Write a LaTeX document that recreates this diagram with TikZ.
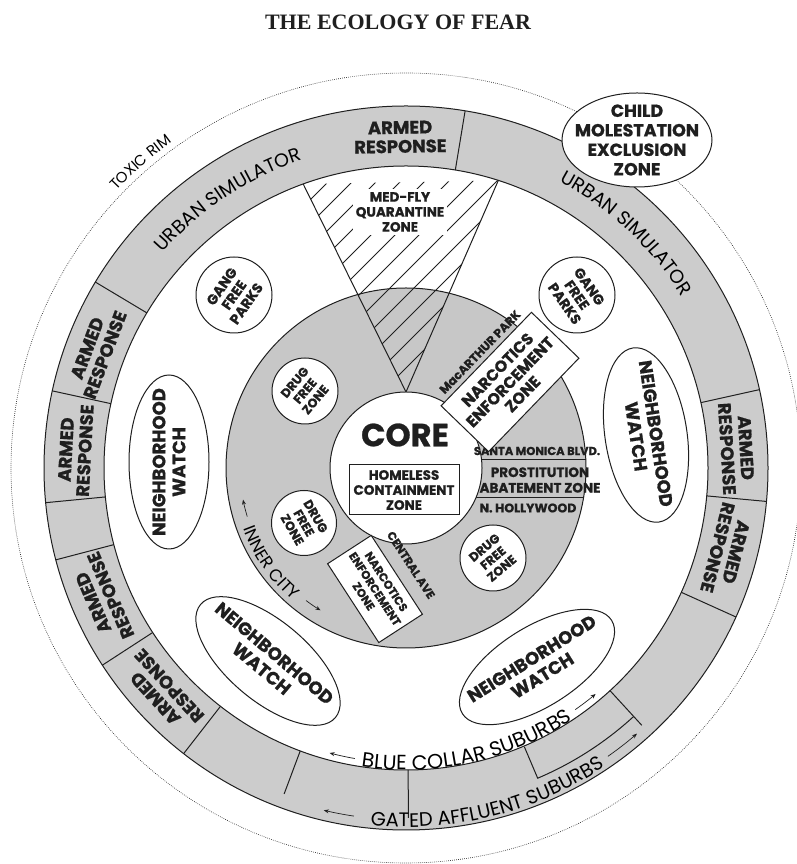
\documentclass[tikz,border=0pt]{standalone}
\usepackage{fontspec}
\setmainfont{Liberation Serif}
\newfontfamily\fut{Poppins}[BoldFeatures={FakeBold=0.8}]
\usetikzlibrary{decorations.text,shapes.geometric,arrows.meta}
\definecolor{ink}{gray}{0.12}
\definecolor{ringgray}{gray}{0.80}
\definecolor{citygray}{gray}{0.78}
\newcommand\usimfont{\fut\fontsize{19}{19}\selectfont}
\newcommand\rimfont{\fut\fontsize{15}{15}\selectfont}
\newcommand\cityfont{\fut\fontsize{17}{17}\selectfont}
\newcommand\bluefont{\fut\fontsize{20.5}{20.5}\selectfont}
\newcommand\gatedfont{\fut\fontsize{19.5}{19.5}\selectfont}
\tikzset{
  lbl/.style={align=center, text=ink, inner sep=0pt},
  nwe/.style={ellipse, draw=ink, fill=white, line width=1pt, inner sep=0pt},
  zonecirc/.style={circle, draw=ink, fill=white, line width=1pt, inner sep=0pt},
  abox/.style={draw=ink, fill=white, line width=1pt, inner sep=0pt},
  artext/.style={lbl, font=\fut\bfseries\fontsize{18}{19}\selectfont},
  nwtext/.style={lbl, font=\fut\bfseries\fontsize{18}{20}\selectfont},
  dfztext/.style={lbl, font=\fut\bfseries\fontsize{12.5}{13.5}\selectfont},
  gfptext/.style={lbl, font=\fut\bfseries\fontsize{14}{15}\selectfont},
  smalltext/.style={lbl, font=\fut\bfseries\fontsize{11.5}{13}\selectfont},
  boxtext/.style={lbl, font=\fut\bfseries\fontsize{16}{17.5}\selectfont},
  curved/.style={decorate, decoration={text along path, text align=center, text={#1}}},
  arr/.style={-{Stealth[length=5pt,width=4pt]}, line width=0.7pt, draw=ink},
}
\begin{document}
\begin{tikzpicture}[x=1pt,y=1pt,color=ink,line width=1pt]
\useasboundingbox (0,0) rectangle (796,864);
\fill[white] (0,0) rectangle (796,864);
\node[font=\bfseries\fontsize{22}{22}\selectfont] (title) at (398,842) {THE ECOLOGY OF FEAR};

\begin{scope}[shift={(406,396)}]
  % toxic rim
  \draw[line width=0.6pt, dash pattern=on 0.7pt off 1.3pt] (0,0) circle[radius=395];
  % urban simulator ring
  \fill[ringgray, even odd rule] (0,0) circle[radius=362] (0,0) circle[radius=302];
  \draw (0,0) circle[radius=362];
  \draw (0,0) circle[radius=302];
  \foreach \a in {80.6,12.5,-5.3,-24.3,149.1,167.7,185.5,194.7,213,232.1}
    \draw (\a:302) -- (\a:362);
  \draw (249.5:302) -- (249.5:348);
  \draw (270.4:302) -- (270.4:350);
  % bracket between the suburbs
  \coordinate (bk1) at (293:303);
  \coordinate (bk2) at (293:337);
  \coordinate (bk4) at (312.5:302);
  \coordinate (bk5) at (312.5:349);
  \draw (bk1) -- (bk2) arc[start angle=293, end angle=312.5, radius=337];
  \draw (bk4) -- (bk5);

  % inner city
  \filldraw[fill=citygray] (0,0) circle[radius=180];

  % med-fly wedge
  \coordinate (wl) at (109.9:302);
  \coordinate (wr) at (72.2:302);
  \coordinate (wa) at (90:76);
  \begin{scope}
    \clip (wl) -- (wr) -- (wa) -- cycle;
    \foreach \b in {100,124,...,380}
      \draw[line width=0.8pt] (-200,\b-200) -- ++(45:600);
  \end{scope}
  \draw (wl) -- (wa) -- (wr);
  \node[lbl, fill=white, inner sep=3pt, font=\fut\bfseries\fontsize{13.5}{15}\selectfont] (medfly) at (-6,256) {MED-FLY\\QUARANTINE\\ZONE};

  % core
  \node[zonecirc, minimum size=152pt] (core) at (0,0) {};
  \node[lbl, font=\fut\bfseries\fontsize{32}{32}\selectfont] (coret) at (-1,33) {CORE};
  \node[abox, minimum width=110pt, minimum height=50pt, lbl, font=\fut\bfseries\fontsize{13.5}{15}\selectfont] (homeless) at (-2,-22) {HOMELESS\\CONTAINMENT\\ZONE};

  % santa monica band
  \coordinate (sm1) at (75.6,8);   \coordinate (sm2) at (179.8,8);
  \coordinate (sm3) at (69.8,-30); \coordinate (sm4) at (177.5,-30);
  \draw (sm1) -- (sm2);
  \draw (sm3) -- (sm4);
  \node[smalltext] (smb) at (131,17) {SANTA MONICA BLVD.};
  \node[smalltext, font=\fut\bfseries\fontsize{13.5}{15.5}\selectfont] (paz) at (134,-12) {PROSTITUTION\\ABATEMENT ZONE};
  \node[smalltext, font=\fut\bfseries\fontsize{12.5}{13}\selectfont] (nh) at (122,-40) {N. HOLLYWOOD};

  % narcotics boxes
  \node[abox, minimum width=130pt, minimum height=66pt, rotate=46] (nez1) at (104,86) {};
  \node[boxtext, rotate=46] (nez1t) at (nez1) {NARCOTICS\\ENFORCEMENT\\ZONE};
  \node[smalltext, font=\fut\bfseries\fontsize{12}{13}\selectfont, rotate=46] (mac) at (74,116) {MacARTHUR PARK};
  \node[abox, minimum width=94pt, minimum height=52pt, rotate=-57] (nez2) at (-31,-121) {};
  \node[boxtext, font=\fut\bfseries\fontsize{11.5}{13.5}\selectfont, rotate=-57] (nez2t) at (nez2) {NARCOTICS\\ENFORCEMENT\\ZONE};
  \node[smalltext, rotate=-57] (cav) at (5,-97) {CENTRAL AVE};

  % drug free zones
  \node[zonecirc, minimum size=66pt] (dfz1) at (-101,77) {};
  \node[dfztext, rotate=50] (dfz1t) at (dfz1) {DRUG\\FREE\\ZONE};
  \node[zonecirc, minimum size=65pt] (dfz2) at (-102,-55) {};
  \node[dfztext, rotate=-60] (dfz2t) at (dfz2) {DRUG\\FREE\\ZONE};
  \node[zonecirc, minimum size=66pt] (dfz3) at (87,-90) {};
  \node[dfztext, rotate=40] (dfz3t) at (dfz3) {DRUG\\FREE\\ZONE};

  % gang free parks
  \node[zonecirc, minimum size=76pt] (gfp1) at (-172,173) {};
  \node[gfptext, rotate=55] (gfp1t) at (gfp1) {GANG\\FREE\\PARKS};
  \node[zonecirc, minimum size=76pt] (gfp2) at (171,173) {};
  \node[gfptext, rotate=-55] (gfp2t) at (gfp2) {GANG\\FREE\\PARKS};

  % neighborhood watch
  \node[nwe, minimum width=174pt, minimum height=80pt, rotate=90] (nw1) at (-237,6) {};
  \node[nwtext, rotate=90] (nw1t) at (nw1) {NEIGHBORHOOD\\WATCH};
  \node[nwe, minimum width=176pt, minimum height=82pt, rotate=-81.5] (nw2) at (240,33) {};
  \node[nwtext, rotate=-81.5] (nw2t) at (nw2) {NEIGHBORHOOD\\WATCH};
  \node[nwe, minimum width=176pt, minimum height=80pt, rotate=-40] (nw3) at (-138,-193) {};
  \node[nwtext, rotate=-40] (nw3t) at (nw3) {NEIGHBORHOOD\\WATCH};
  \node[nwe, minimum width=176pt, minimum height=80pt, rotate=32] (nw4) at (131,-199) {};
  \node[nwtext, rotate=32] (nw4t) at (nw4) {NEIGHBORHOOD\\WATCH};

  % armed response
  \foreach \a [count=\i] in {91,3.4,-14.3,159.4,176.9,203.3,222.6}
    \node[artext, rotate=\a-90] (ar\i) at (\a:331) {ARMED\\RESPONSE};

  % child molestation
  \node[nwe, minimum width=150pt, minimum height=94pt] (cm) at (231,328) {};
  \node[lbl, font=\fut\bfseries\fontsize{17.5}{19.5}\selectfont] (cmt) at (cm) {CHILD\\MOLESTATION\\EXCLUSION\\ZONE};

  % curved labels
  \path[curved={|\usimfont|URBAN SIMULATOR}] (145.1:325) arc[start angle=145.1, end angle=102.1, radius=325];
  \path[curved={|\usimfont|URBAN SIMULATOR}] (68:325) arc[start angle=68, end angle=25.6, radius=325];
  \path[curved={|\rimfont|TOXIC RIM}] (142:401) arc[start angle=142, end angle=120, radius=401];
  \path[curved={|\cityfont|INNER CITY}] (197:174) arc[start angle=197, end angle=233, radius=174];
  \draw[arr] (197:166) arc[start angle=197, end angle=191, radius=166];
  \draw[arr] (233:166) arc[start angle=233, end angle=239, radius=166];
  \path[curved={|\bluefont|BLUE COLLAR SUBURBS}] (258:302) arc[start angle=258, end angle=307, radius=302];
  \draw[arr] (260:295) arc[start angle=260, end angle=255, radius=295];
  \draw[arr] (305:295) arc[start angle=305, end angle=310, radius=295];
  \path[curved={|\gatedfont|GATED AFFLUENT SUBURBS}] (262:359) arc[start angle=262, end angle=306, radius=359];
  \draw[arr] (261.5:352) arc[start angle=261.5, end angle=256.5, radius=352];
  \draw[arr] (305:352) arc[start angle=305, end angle=311, radius=352];
\end{scope}
\end{tikzpicture}
\end{document}
